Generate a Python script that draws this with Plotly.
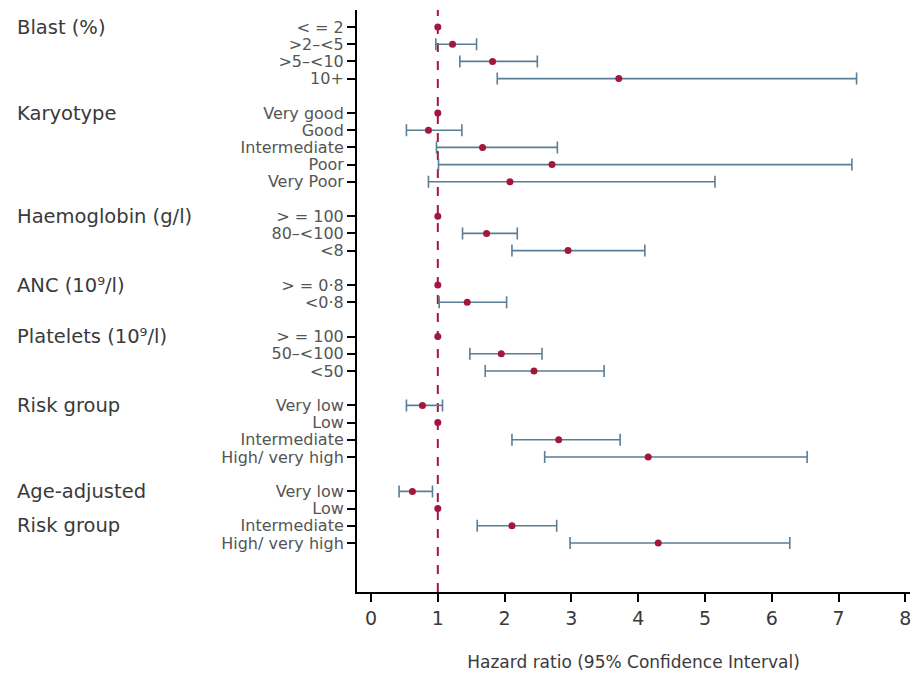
import plotly.graph_objects as go

# ---- data ----
groups = ["Blast (%)", "Karyotype", "Haemoglobin (g/l)", "ANC (10⁹/l)",
          "Platelets (10⁹/l)", "Risk group", "Age-adjusted<br>Risk group"]
group_rows = [
    ["< = 2", ">2–<5", ">5–<10", "10+"],
    ["Very good", "Good", "Intermediate", "Poor", "Very Poor"],
    ["> = 100", "80–<100", "<8"],
    ["> = 0·8", "<0·8"],
    ["> = 100", "50–<100", "<50"],
    ["Very low", "Low", "Intermediate", "High/ very high"],
    ["Very low", "Low", "Intermediate", "High/ very high"],
]
hr = [1.00, 1.22, 1.82, 3.71,
      1.00, 0.86, 1.67, 2.71, 2.08,
      1.00, 1.73, 2.95,
      1.00, 1.44,
      1.00, 1.95, 2.44,
      0.77, 1.00, 2.81, 4.15,
      0.62, 1.00, 2.11, 4.30]
lo = [None, 0.97, 1.33, 1.89,
      None, 0.53, 0.98, 1.01, 0.86,
      None, 1.37, 2.11,
      None, 1.02,
      None, 1.48, 1.71,
      0.53, None, 2.11, 2.60,
      0.42, None, 1.59, 2.98]
hi = [None, 1.58, 2.49, 7.27,
      None, 1.36, 2.79, 7.20, 5.15,
      None, 2.19, 4.10,
      None, 2.03,
      None, 2.56, 3.49,
      1.07, None, 3.73, 6.53,
      0.92, None, 2.78, 6.27]
x_ticks = [0, 1, 2, 3, 4, 5, 6, 7, 8]
x_title = "Hazard ratio (95% Confidence Interval)"

# ---- layout positions (row slots, blank slot between groups) ----
ypos, ylabels, group_y = [], [], []
slot = 0
for g, rows in zip(groups, group_rows):
    group_y.append(slot)
    for r in rows:
        ypos.append(slot)
        ylabels.append(r)
        slot += 1
    slot += 1

RED = "#a3173f"
BLUE = "#5a7e96"
TXT = "#3a3a3a"

ci_idx = [i for i in range(len(hr)) if lo[i] is not None]
ref_idx = [i for i in range(len(hr)) if lo[i] is None]

fig = go.Figure()
fig.add_vline(x=1, line=dict(color=RED, width=2, dash="dash"), layer="below")
fig.add_trace(go.Scatter(
    x=[hr[i] for i in ci_idx], y=[ypos[i] for i in ci_idx], mode="markers",
    marker=dict(color=RED, size=7),
    error_x=dict(type="data", symmetric=False,
                 array=[hi[i] - hr[i] for i in ci_idx],
                 arrayminus=[hr[i] - lo[i] for i in ci_idx],
                 color=BLUE, thickness=1.6, width=6),
    showlegend=False, hoverinfo="skip"))
fig.add_trace(go.Scatter(
    x=[hr[i] for i in ref_idx], y=[ypos[i] for i in ref_idx], mode="markers",
    marker=dict(color=RED, size=7), showlegend=False, hoverinfo="skip"))

L, R, T, B = 357, 6, 10, 84
W, H = 916, 676
pw = W - L - R
gfont = dict(family="DejaVu Sans", size=19.5, color=TXT)
for g, gy in zip(groups, group_y):
    if "<br>" in g:
        parts = g.split("<br>")
        for k, p in enumerate(parts):
            fig.add_annotation(text=p, x=(15 - L) / pw, xref="paper", y=gy + 2 * k, yref="y",
                               xanchor="left", yanchor="middle", showarrow=False, font=gfont)
        continue
    fig.add_annotation(text=g, x=(15 - L) / pw, xref="paper", y=gy, yref="y",
                       xanchor="left", yanchor="middle", showarrow=False, font=gfont)

fig.update_layout(
    width=W, height=H, margin=dict(l=L, r=R, t=T, b=B),
    paper_bgcolor="white", plot_bgcolor="white",
    font=dict(family="DejaVu Sans", color=TXT),
    xaxis=dict(range=[-0.21, 8.07], tickvals=x_ticks, ticks="outside", ticklen=8,
               tickwidth=2, tickcolor="black", showline=True, linecolor="black",
               linewidth=2, showgrid=False, zeroline=False,
               tickfont=dict(size=19, color=TXT),
               title=dict(text=x_title, font=dict(size=17, color=TXT), standoff=28)),
    yaxis=dict(range=[32.85, -0.99], tickvals=ypos, ticktext=ylabels, ticks="outside",
               ticklen=8, tickwidth=2, tickcolor="black", showline=True,
               linecolor="black", linewidth=2, showgrid=False, zeroline=False,
               tickfont=dict(size=16, color="#555555")),
)
fig.write_html("out.html")
